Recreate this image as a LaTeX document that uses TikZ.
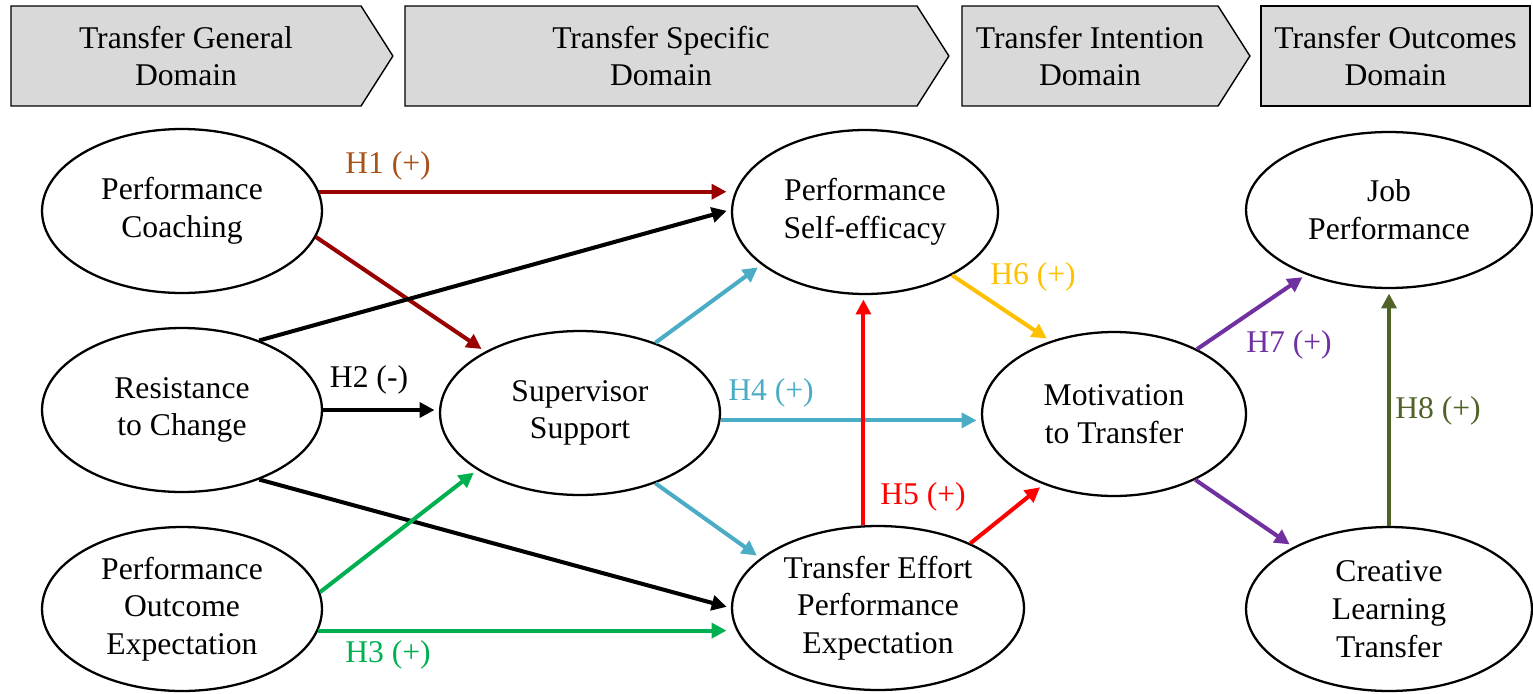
\documentclass[tikz,border=0pt]{standalone}
\usepackage{fontspec}
\setmainfont{Liberation Serif}
\usetikzlibrary{arrows.meta, shapes.geometric, shapes.symbols, positioning}
\definecolor{hdgray}{HTML}{D9D9D9}
\definecolor{cdred}{HTML}{990000}
\definecolor{cbrown}{HTML}{A65218}
\definecolor{cgreen}{HTML}{00B050}
\definecolor{cblue}{HTML}{4BACC6}
\definecolor{cred}{HTML}{FF0000}
\definecolor{cgold}{HTML}{FFC000}
\definecolor{cpurple}{HTML}{7030A0}
\definecolor{colive}{HTML}{4F6228}
\tikzset{
  txt/.style={font=\fontsize{18}{21.5}\selectfont, align=center},
  dom/.style={txt, draw, line width=0.8pt, fill=hdgray, inner sep=0pt, minimum height=2cm},
  domarr/.style={dom, signal, signal to=east, signal pointer angle=115},
  cons/.style={txt, ellipse, draw, fill=white, line width=1.3pt, inner sep=0pt, minimum height=3.28cm},
  hyp/.style={txt, inner sep=0pt},
  lnk/.style={line width=2.3pt, -{Triangle[length=8.5pt, width=8.5pt]}, shorten >=2.5pt}
}
\begin{document}
\begin{tikzpicture}[x=0.02cm, y=-0.02cm]
  \useasboundingbox (0,0) rectangle (1533,693);
  % domains
  \node[domarr, minimum width=7.64cm] (hgen) at (186,56) {Transfer General\\Domain};
  \node[domarr, minimum width=10.88cm] (hspec) at (661,56) {Transfer Specific\\Domain};
  \node[domarr, minimum width=5.76cm] (hint) at (1090,56) {Transfer Intention\\Domain};
  \node[dom, minimum width=5.38cm] (hout) at (1395.5,56) {Transfer Outcomes\\Domain};
  % constructs
  \node[cons, minimum width=5.6cm] (coach) at (182,211) {Performance\\Coaching};
  \node[cons, minimum width=5.6cm] (resist) at (182,410) {Resistance\\to Change};
  \node[cons, minimum width=5.6cm] (outcome) at (182,609) {Performance\\Outcome\\Expectation};
  \node[cons, minimum width=5.6cm] (superv) at (580,413) {Supervisor\\Support};
  \node[cons, minimum width=5.32cm] (selfeff) at (865,212) {Performance\\Self-efficacy};
  \node[cons, minimum width=5.84cm] (effort) at (878,608) {Transfer Effort\\Performance\\Expectation};
  \node[cons, minimum width=5.28cm] (motiv) at (1114,414) {Motivation\\to Transfer};
  \node[cons, minimum width=5.72cm, minimum height=3.12cm] (job) at (1389,210) {Job\\Performance};
  \node[cons, minimum width=5.72cm] (creative) at (1389,609) {Creative\\Learning\\Transfer};
  % paths
  \draw[lnk, cdred] (coach.8.8) -- (coach.8.8 -| selfeff.west);
  \draw[lnk, cdred] (coach.349.8) -- (superv.147);
  \draw[lnk] (resist.42.6) -- (selfeff.179);
  \draw[lnk] (resist.0.8) -- (resist.0.8 -| superv.west);
  \draw[lnk] (resist.318.2) -- (effort.180.8);
  \draw[lnk, cgreen] (outcome.7.8) -- (superv.209.4);
  \draw[lnk, cgreen] (outcome.351.2) -- (outcome.351.2 -| effort.west);
  \draw[lnk, cblue] (superv.43) -- (selfeff.207.8);
  \draw[lnk, cblue] (superv.357.1) -- (superv.357.1 -| motiv.west);
  \draw[lnk, cblue] (superv.317.3) -- (effort.157);
  \draw[lnk, cred] (effort.100.3) -- (effort.100.3 |- selfeff.south);
  \draw[lnk, cred] (effort.35.8) -- (motiv.225.8);
  \draw[lnk, cgold] (selfeff.324.1) -- (motiv.131.1);
  \draw[lnk, cpurple] (motiv.38.8) -- (job.218.2);
  \draw[lnk, cpurple] (motiv.321.2) -- (creative.147.6);
  \draw[lnk, colive] (creative.90) -- (job.270);
  % hypotheses
  \node[hyp, cbrown] (h1) at (388,166) {H1 (+)};
  \node[hyp] (h2) at (369,380) {H2 (-)};
  \node[hyp, cgreen] (h3) at (388,655) {H3 (+)};
  \node[hyp, cblue] (h4) at (771,393) {H4 (+)};
  \node[hyp, cred] (h5) at (923,497) {H5 (+)};
  \node[hyp, cgold] (h6) at (1033,277) {H6 (+)};
  \node[hyp, cpurple] (h7) at (1289,345) {H7 (+)};
  \node[hyp, colive] (h8) at (1438,411) {H8 (+)};
\end{tikzpicture}
\end{document}
